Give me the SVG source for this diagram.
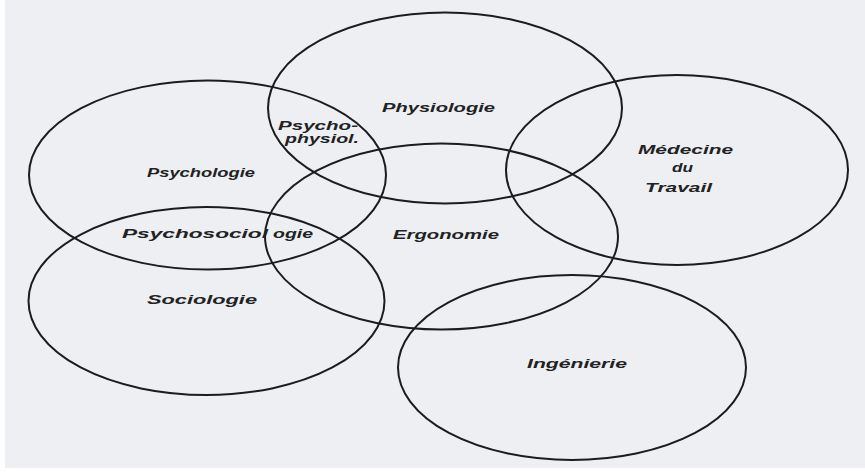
<svg xmlns="http://www.w3.org/2000/svg" width="865" height="472" viewBox="0 0 865 472">
<style>
  .c { fill: none; stroke: #1c1c1c; stroke-width: 2; }
  .t { font-family: "Liberation Sans", Arial, sans-serif; font-size: 12.5px; font-weight: bold; font-style: italic; fill: #222; }
</style>
<rect x="0" y="0" width="865" height="472" fill="#ffffff"/>
<rect x="5" y="0" width="860" height="468" fill="#edeff3"/>
<g id="physiologie">
  <ellipse class="c" cx="445" cy="108" rx="177" ry="95.5"/>
  <text class="t" x="382" y="112" textLength="113" lengthAdjust="spacingAndGlyphs">Physiologie</text>
</g>
<g id="psychophysiologie">
  <text class="t" x="278" y="130" textLength="80" lengthAdjust="spacingAndGlyphs">Psycho-</text>
  <text class="t" x="285" y="143" textLength="74" lengthAdjust="spacingAndGlyphs">physiol.</text>
</g>
<g id="psychologie">
  <ellipse class="c" cx="207.5" cy="175" rx="178.5" ry="94.5"/>
  <text class="t" x="147" y="177" textLength="108" lengthAdjust="spacingAndGlyphs">Psychologie</text>
</g>
<g id="medecine">
  <ellipse class="c" cx="677" cy="170" rx="171" ry="95"/>
  <text class="t" x="638" y="153.5" textLength="95" lengthAdjust="spacingAndGlyphs">Médecine</text>
  <text class="t" x="672" y="171.5" textLength="21" lengthAdjust="spacingAndGlyphs">du</text>
  <text class="t" x="645" y="191.5" textLength="67" lengthAdjust="spacingAndGlyphs">Travail</text>
</g>
<g id="ergonomie">
  <ellipse class="c" cx="441.5" cy="236.5" rx="176.5" ry="93"/>
  <text class="t" x="393" y="239" textLength="106" lengthAdjust="spacingAndGlyphs">Ergonomie</text>
</g>
<g id="psychosociologie">
  <text class="t" y="238"><tspan x="122" textLength="146" lengthAdjust="spacingAndGlyphs">Psychosociol</tspan><tspan x="273" textLength="40" lengthAdjust="spacingAndGlyphs">ogie</tspan></text>
</g>
<g id="sociologie">
  <ellipse class="c" cx="206.5" cy="301" rx="178" ry="94"/>
  <text class="t" x="147" y="303.5" textLength="110" lengthAdjust="spacingAndGlyphs">Sociologie</text>
</g>
<g id="ingenierie">
  <ellipse class="c" cx="572" cy="367.5" rx="174" ry="92.5"/>
  <text class="t" x="527" y="368" textLength="100" lengthAdjust="spacingAndGlyphs">Ingénierie</text>
</g>
<g id="connectors"/>
</svg>
